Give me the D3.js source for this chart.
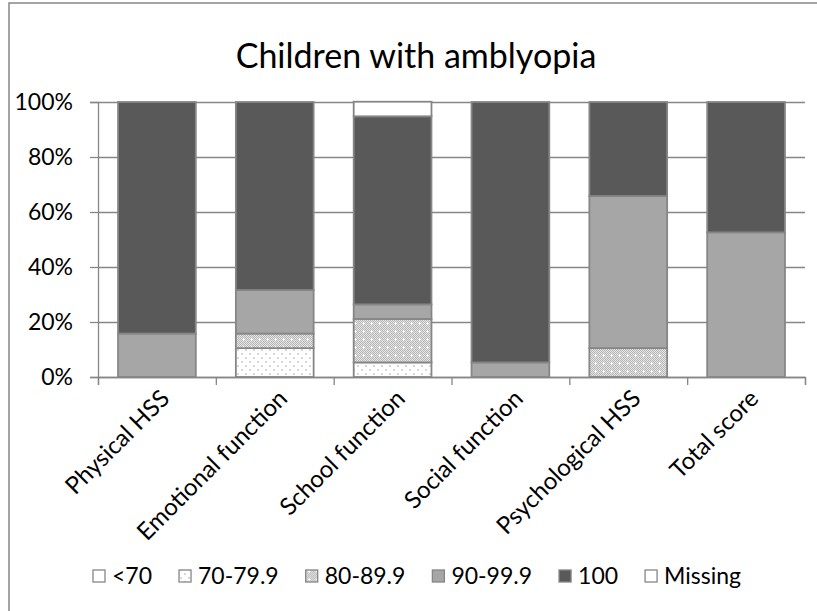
<!doctype html>
<html>
<head>
<script src="https://d3js.org/d3.v7.min.js"></script>
<style>
    body { margin: 0; background: #fff; }
    text { font-family: Lato, "Open Sans", sans-serif; fill: #000; }
</style>
</head>
<body>
<script>
    // data, percent of children per score group
    var categories = ["Physical HSS", "Emotional function", "School function",
        "Social function", "Psychological HSS", "Total score"];
    var seriesNames = ["<70", "70-79.9", "80-89.9", "90-99.9", "100", "Missing"];
    var below70 = [0, 0, 0, 0, 0, 0];
    var s70to79 = [0, 10.5, 5.3, 0, 0, 0];
    var s80to89 = [0, 5.3, 15.8, 0, 10.5, 0];
    var s90to99 = [15.8, 15.8, 5.3, 5.3, 55.3, 52.6];
    var s100 = [84.2, 68.4, 68.4, 94.7, 34.2, 47.4];
    var missing = [0, 0, 5.3, 0, 0, 0];
    var yTicks = [0, 20, 40, 60, 80, 100];
    var title = "Children with amblyopia";

    var seriesValues = [below70, s70to79, s80to89, s90to99, s100, missing];
    var table = categories.map(function (c, i) {
        var row = {category: c};
        seriesNames.forEach(function (k, j) { row[k] = seriesValues[j][i]; });
        return row;
    });

    var W = 817, H = 611;
    var plot = {left: 98, right: 805, top: 102, bottom: 377};
    var gray = "#868686";

    var svg = d3.select("body").append("svg")
        .attr("width", W)
        .attr("height", H);

    // patterns
    var defs = svg.append("defs");
    var dots = defs.append("pattern")
        .attr("id", "dots")
        .attr("patternUnits", "userSpaceOnUse")
        .attr("width", 8).attr("height", 8);
    dots.append("rect").attr("width", 8).attr("height", 8).attr("fill", "#fff");
    dots.append("circle").attr("cx", 2).attr("cy", 2).attr("r", 1).attr("fill", "#cccccc");
    dots.append("circle").attr("cx", 6).attr("cy", 6).attr("r", 1).attr("fill", "#cccccc");

    var checker = defs.append("pattern")
        .attr("id", "checker")
        .attr("patternUnits", "userSpaceOnUse")
        .attr("width", 8).attr("height", 8);
    checker.append("rect").attr("width", 8).attr("height", 8).attr("fill", "#e4e4e4");
    for (var i = 0; i < 8; i++) {
        for (var j = 0; j < 8; j++) {
            if ((i + j) % 2 === 0) {
                checker.append("rect").attr("x", i).attr("y", j)
                    .attr("width", 1).attr("height", 1).attr("fill", "#b8b8b8");
            }
        }
    }
    checker.append("rect").attr("x", 3).attr("y", 2).attr("width", 1).attr("height", 3).attr("fill", "#fff");
    checker.append("rect").attr("x", 2).attr("y", 3).attr("width", 3).attr("height", 1).attr("fill", "#fff");

    var fills = {
        "<70": "#ffffff",
        "70-79.9": "url(#dots)",
        "80-89.9": "url(#checker)",
        "90-99.9": "#a6a6a6",
        "100": "#595959",
        "Missing": "#ffffff"
    };

    // outer frame
    svg.append("rect")
        .attr("x", 9).attr("y", 3)
        .attr("width", 900).attr("height", 700)
        .attr("fill", "none")
        .attr("stroke", gray)
        .attr("stroke-width", 1.5);

    // title
    svg.append("text")
        .attr("x", 416)
        .attr("y", 68)
        .attr("text-anchor", "middle")
        .attr("font-size", "34px")
        .text(title);

    // scales
    var x = d3.scaleBand()
        .domain(categories)
        .range([plot.left, plot.right])
        .paddingInner(0.34)
        .paddingOuter(0.17);
    var xEdges = d3.scaleLinear()
        .domain([0, categories.length])
        .range([plot.left, plot.right]);
    var y = d3.scaleLinear()
        .domain([0, 100])
        .range([plot.bottom, plot.top]);

    // gridlines
    svg.append("g")
        .attr("transform", "translate(" + plot.left + ",0)")
        .call(d3.axisLeft(y).tickValues(yTicks).tickSize(-(plot.right - plot.left)).tickFormat(""))
        .call(function (g) { g.select(".domain").remove(); })
        .selectAll("line").attr("stroke", gray).attr("stroke-width", 1.3);

    // y axis
    var yAxis = svg.append("g")
        .attr("transform", "translate(" + plot.left + ",0)")
        .call(d3.axisLeft(y).tickValues(yTicks).tickSize(8).tickPadding(17)
            .tickFormat(function (d) { return d + "%"; }));
    yAxis.select(".domain").attr("stroke", gray).attr("stroke-width", 1.3);
    yAxis.selectAll("line").attr("stroke", gray).attr("stroke-width", 1.3);
    yAxis.selectAll("text").attr("font-size", "23px").attr("font-family", "Lato").attr("fill", "#000");

    // bars
    var stack = d3.stack().keys(seriesNames);
    var layers = stack(table);
    svg.append("g").selectAll("g")
        .data(layers)
        .enter().append("g")
        .attr("fill", function (d) { return fills[d.key]; })
        .selectAll("rect")
        .data(function (d) { return d.filter(function (p) { return p[1] - p[0] > 0; }); })
        .enter().append("rect")
        .attr("x", function (d) { return x(d.data.category); })
        .attr("width", x.bandwidth())
        .attr("y", function (d) { return y(d[1]); })
        .attr("height", function (d) { return y(d[0]) - y(d[1]); })
        .attr("stroke", gray)
        .attr("stroke-width", 1.8);

    // x axis
    var xAxis = svg.append("g")
        .attr("transform", "translate(0," + plot.bottom + ")")
        .call(d3.axisBottom(xEdges).ticks(categories.length).tickSize(8).tickFormat(""));
    xAxis.select(".domain").attr("stroke", gray).attr("stroke-width", 1.3);
    xAxis.selectAll("line").attr("stroke", gray).attr("stroke-width", 1.3);

    svg.append("g").selectAll("text")
        .data(categories)
        .enter().append("text")
        .attr("text-anchor", "end")
        .attr("font-size", "24px")
        .attr("transform", function (d) {
            return "translate(" + (x(d) + x.bandwidth() / 2 + 14) + "," + (plot.bottom + 23) + ") rotate(-45)";
        })
        .text(function (d) { return d; });

    // legend
    var legend = svg.append("g").attr("transform", "translate(93,576)");
    var lx = 0;
    seriesNames.forEach(function (k) {
        var item = legend.append("g").attr("transform", "translate(" + lx + ",0)");
        item.append("rect")
            .attr("x", 0).attr("y", -6)
            .attr("width", 12).attr("height", 12)
            .attr("fill", fills[k])
            .attr("stroke", gray)
            .attr("stroke-width", 1.3);
        var t = item.append("text")
            .attr("x", 19)
            .attr("y", 8)
            .attr("font-size", "23px")
            .text(k);
        lx += 19 + t.node().getComputedTextLength() + 27;
    });
</script>
</body>
</html>
